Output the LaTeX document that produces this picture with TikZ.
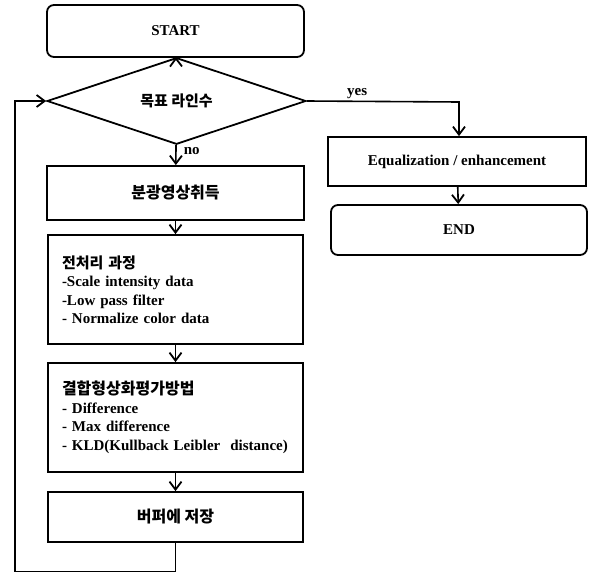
\documentclass[tikz,border=0pt]{standalone}
\usepackage{fontspec}
\setmainfont{Liberation Serif}
\newfontfamily\kr{Noto Sans CJK KR}
\usetikzlibrary{shapes.geometric,arrows.meta}
\tikzset{
  box/.style={draw,line width=1.8pt,inner sep=0pt,font=\bfseries\fontsize{15}{18.5}\selectfont},
  rbox/.style={box,rounded corners=7pt},
  txtbox/.style={box,align=left,text width=227pt,inner xsep=14pt},
  arr/.style={line width=1.6pt,-{Straight Barb[length=8pt,width=12pt,line width=1.8pt]}},
  lbl/.style={font=\bfseries\fontsize{15}{18}\selectfont,inner sep=0pt}
}
\begin{document}
\begin{tikzpicture}[x=1pt,y=-1pt]
\useasboundingbox (0,0) rectangle (590,573);
\node[rbox,minimum width=257pt,minimum height=52pt] (start) at (175.5,31) {START};
\node[box,diamond,minimum width=259pt,minimum height=48pt] (dec) at (176.5,101) {\kr\fontsize{15}{18}\selectfont 목표 라인수};
\node[box,minimum width=257pt,minimum height=54pt] (b1) at (175.5,193) {\kr\fontsize{16}{18}\selectfont 분광영상취득};
\node[txtbox,minimum height=109pt] (b2) at (175.5,289.5) {{\kr\fontsize{15}{18}\selectfont 전처리 과정}\\-Scale intensity data\\-Low pass filter\\- Normalize color data};
\node[txtbox,minimum height=109pt] (b3) at (175.5,417.5) {{\kr\fontsize{16}{18}\selectfont 결합형상화평가방법}\\- Difference\\- Max difference\\- KLD(Kullback Leibler\ \ distance)};
\node[box,minimum width=255pt,minimum height=50pt] (b4) at (175.5,517) {\kr\fontsize{16}{18}\selectfont 버퍼에 저장};
\node[box,minimum width=258pt,minimum height=49pt] (eq) at (457,161.5) {Equalization / enhancement};
\node[rbox,minimum width=256pt,minimum height=50pt] (end) at (459,230) {END};
\coordinate (lb) at (15,571.5);
\coordinate (rt) at (459,102);
\draw[arr] (start) -- (dec);
\draw[arr] (dec) -- node[pos=0.28,lbl,right=7pt] (no) {no} (b1);
\draw[arr] (b1) -- (b2);
\draw[arr] (b2) -- (b3);
\draw[arr] (b3) -- (b4);
\draw[arr] (b4.south) |- (lb) |- (dec.west);
\draw[arr] (dec.east) -- node[pos=0.33,lbl,above=2pt] (yes) {yes} (rt) -- (rt |- eq.north);
\draw[arr] (eq) -- (end);
\end{tikzpicture}
\end{document}
